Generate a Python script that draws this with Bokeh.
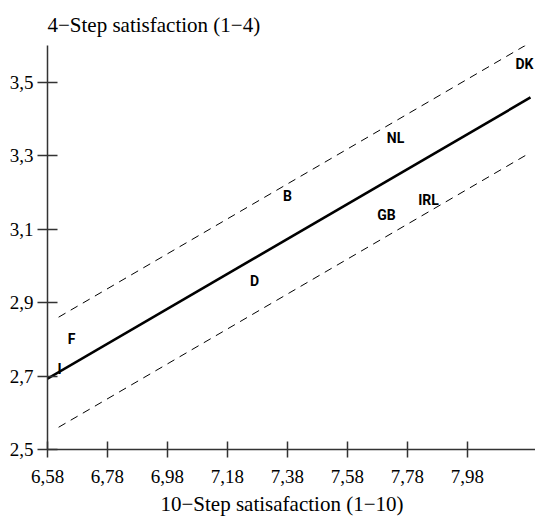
from bokeh.plotting import figure
from bokeh.models import FixedTicker, Title, ColumnDataSource, Range1d
from bokeh.embed import file_html
from bokeh.resources import INLINE
from bokeh.core.properties import value

# Country means on the two satisfaction scales
countries = ["I", "F", "D", "B", "GB", "NL", "IRL", "DK"]
step10 = [6.62, 6.66, 7.27, 7.38, 7.71, 7.74, 7.85, 8.17]
step4 = [2.72, 2.80, 2.96, 3.19, 3.14, 3.35, 3.18, 3.55]

# Axis ticks and their labels (decimal comma)
x_ticks = [6.58, 6.78, 6.98, 7.18, 7.38, 7.58, 7.78, 7.98]
x_tick_labels = ["6,58", "6,78", "6,98", "7,18", "7,38", "7,58", "7,78", "7,98"]
y_ticks = [2.5, 2.7, 2.9, 3.1, 3.3, 3.5]
y_tick_labels = ["2,5", "2,7", "2,9", "3,1", "3,3", "3,5"]

x_title = "10\u2212Step satisafaction (1\u221210)"
y_title = "4\u2212Step satisfaction (1\u22124)"

# Fitted line (value at 6.58 and slope) with its band half-width
fit_at_origin = 2.693
fit_slope = 0.476
band_half = 0.15
fit_x = [6.58, 8.19]
band_x = [6.617, 8.173]


def fit(xs, shift=0.0):
    return [fit_at_origin + fit_slope * (x - 6.58) + shift for x in xs]


SERIF = "Liberation Serif"

p = figure(width=535, height=521, output_backend="svg", toolbar_location=None,
           x_range=Range1d(6.58, 8.2067), y_range=Range1d(2.5, 3.601),
           min_border_left=47, min_border_right=0, min_border_top=45,
           min_border_bottom=72)
p.outline_line_color = None
p.grid.visible = False
p.background_fill_color = "white"
p.border_fill_color = "white"

# y-axis title sits above the plot, flush with the axis
p.title.text = y_title
p.title.align = "left"
p.title.text_font = SERIF
p.title.text_font_size = "21px"
p.title.text_font_style = "normal"
p.title.text_color = "black"
p.title.standoff = 17

p.add_layout(Title(text=x_title, align="left", offset=113,
                   text_font=SERIF, text_font_size="21px", text_font_style="normal",
                   text_color="black", standoff=8), "below")

for ax, ticks, labels, tin, tout in ((p.xaxis[0], x_ticks, x_tick_labels, 8, 8),
                                     (p.yaxis[0], y_ticks, y_tick_labels, 10, 10)):
    ax.ticker = FixedTicker(ticks=ticks)
    ax.major_label_overrides = {t: s for t, s in zip(ticks, labels)}
    ax.major_tick_in = tin
    ax.major_tick_out = tout
    ax.minor_tick_line_color = None
    ax.axis_line_color = "#333333"
    ax.major_tick_line_color = "#333333"
    ax.axis_line_width = 1.5
    ax.major_tick_line_width = 1.5
    ax.major_label_text_font = SERIF
    ax.major_label_text_font_size = "19px"
    ax.major_label_text_color = "black"
p.xaxis.major_label_standoff = 12
p.yaxis.major_label_standoff = 4
p.yaxis.major_label_orientation = "horizontal"

p.line(fit_x, fit(fit_x), line_color="black", line_width=2.6)
p.line(band_x, fit(band_x, band_half), line_color="black", line_width=1, line_dash="8 6")
p.line(band_x, fit(band_x, -band_half), line_color="black", line_width=1, line_dash="8 6")

src = ColumnDataSource(dict(x=step10, y=step4, name=countries))
p.text(x="x", y="y", text="name", source=src, text_align="center",
       text_baseline="middle", text_font=value("Roboto"),
       text_font_style="bold", text_font_size="14px", text_color="black")

open("out.html", "w").write(file_html(p, INLINE))
